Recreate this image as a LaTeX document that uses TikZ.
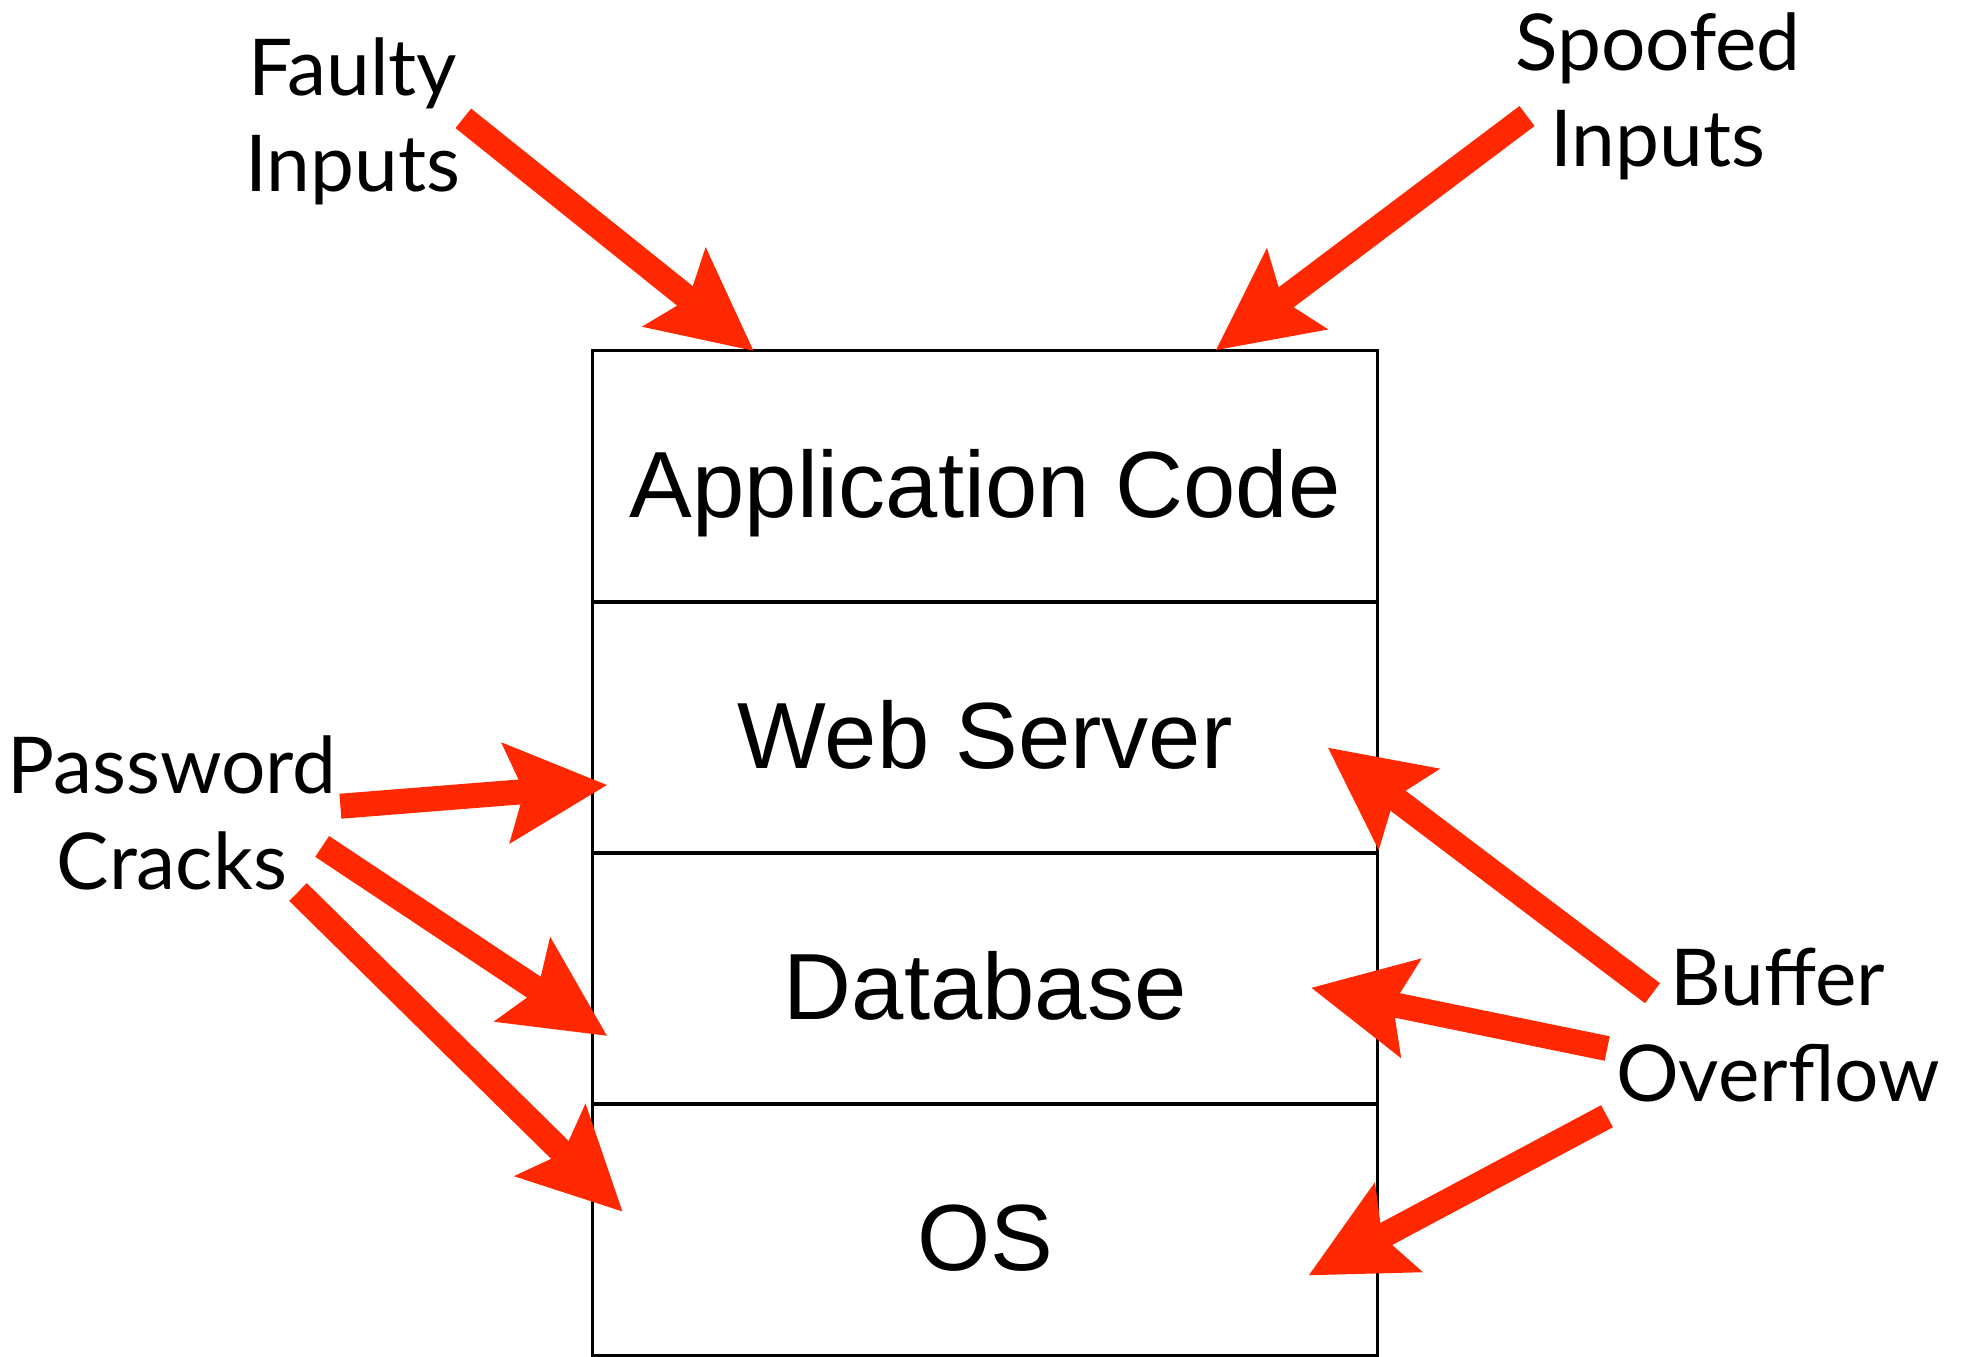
\documentclass[tikz,border=0pt]{standalone}
\usepackage{fontspec}
\setmainfont{Liberation Sans}
\newfontfamily\labfont{Lato}
\usetikzlibrary{arrows.meta}
\definecolor{hotred}{RGB}{255,40,0}
\tikzset{
  cell/.style={draw=black, line width=0.03cm, minimum width=7.845cm,
    minimum height=2.51cm, inner sep=0pt},
  celltext/.style={anchor=base, inner sep=0pt,
    font=\fontsize{26.74pt}{32pt}\selectfont},
  % multi-line labels: the base anchor sits on the last line
  threat/.style={anchor=base, inner sep=0pt, align=center,
    font=\labfont\fontsize{22.3pt}{27.3pt}\selectfont},
  attack/.style={draw=hotred, line width=0.25cm,
    -{Stealth[length=1.02cm, width=1.02cm, inset=0.19cm, line width=0pt]}}
}
\begin{document}
\begin{tikzpicture}[x=0.01cm, y=-0.01cm]
\useasboundingbox (0,0) rectangle (1966,1356);
\fill[white] (0,0) rectangle (1966,1356);

% the software stack
\node[cell] (app) at (985.25,476.5) {};
\node[cell] (web) at (985.25,727.5) {};
\node[cell] (db)  at (985.25,978.5) {};
\node[cell] (os)  at (985.25,1229.5) {};
\node[celltext] (appT) at (985.25,517.3) {Application Code};
\node[celltext] (webT) at (985.25,768.3) {Web Server};
\node[celltext] (dbT)  at (985.25,1019.3) {Database};
\node[celltext] (osT)  at (985.25,1270.3) {OS};

% threat labels
\node[threat] (faulty)  at (353,191.7)    {Faulty\\Inputs};
\node[threat] (spoofed) at (1658,166.7)   {Spoofed\\Inputs};
\node[threat] (pwd)     at (172,889.3)    {Password\\Cracks};
\node[threat] (buf)     at (1778,1101.8)  {Buffer\\Overflow};

% arrow ends
\coordinate (fiS) at (463.3,118.3);   \coordinate (fiT) at (753.4,350.7);
\coordinate (spS) at (1527,116);      \coordinate (spT) at (1216.1,350);
\coordinate (pwS1) at (340.4,806.2);  \coordinate (pwT1) at (606.9,785);
\coordinate (pwS2) at (322.2,846.4);  \coordinate (pwT2) at (606.9,1035.7);
\coordinate (pwS3) at (298,892);      \coordinate (pwT3) at (622.4,1211.4);
\coordinate (bfS1) at (1652.5,993.2); \coordinate (bfT1) at (1328.1,747.8);
\coordinate (bfS2) at (1607.2,1048.5);\coordinate (bfT2) at (1311.5,987.8);
\coordinate (bfS3) at (1607,1116.2);  \coordinate (bfT3) at (1308.9,1275.2);

% attacks
\draw[attack] (fiS) -- (fiT);
\draw[attack] (spS) -- (spT);
\draw[attack] (pwS1) -- (pwT1);
\draw[attack] (pwS2) -- (pwT2);
\draw[attack] (pwS3) -- (pwT3);
\draw[attack] (bfS1) -- (bfT1);
\draw[attack] (bfS2) -- (bfT2);
\draw[attack] (bfS3) -- (bfT3);
\end{tikzpicture}
\end{document}
